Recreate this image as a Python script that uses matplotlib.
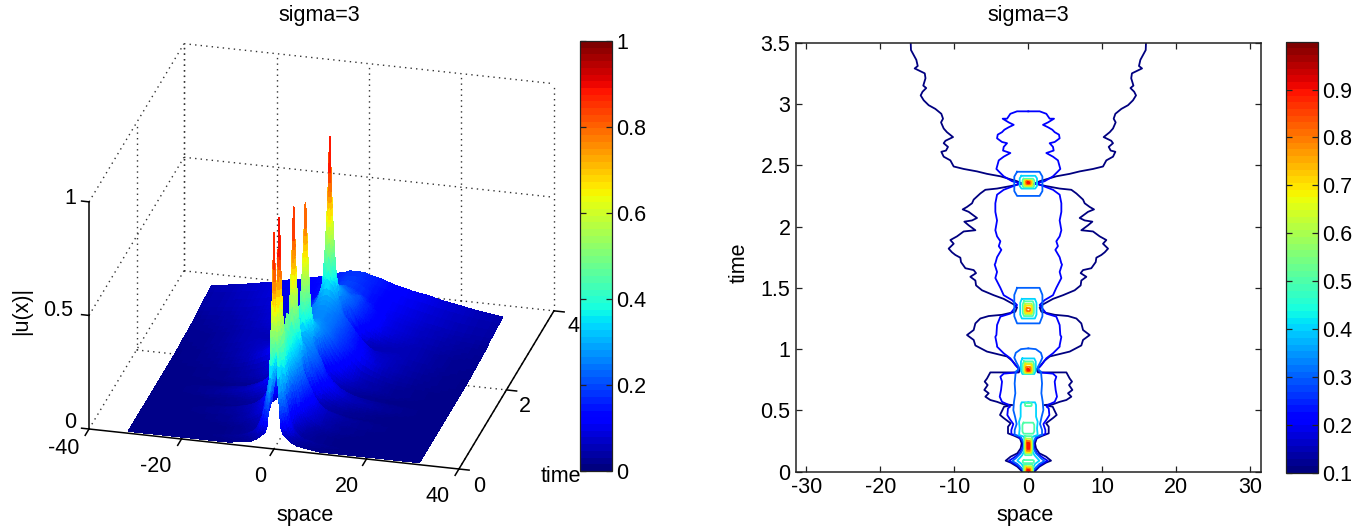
import numpy as np
import matplotlib
matplotlib.use('Agg')
import matplotlib.pyplot as plt
from matplotlib.cm import ScalarMappable
from matplotlib.colors import Normalize
from mpl_toolkits.mplot3d import proj3d

plt.rcParams['font.family'] = ['Liberation Sans', 'DejaVu Sans']
plt.rcParams['axes.unicode_minus'] = False

W, H = 1371, 531
FS = 15.5
INK = '#222222'

# |u(x)|, x >= 0 only (the solution is symmetric)
space_half = [0, 0.3, 0.6, 1, 1.5, 2, 3, 4, 5, 6.5, 8, 10, 12, 15, 18, 22, 26, 31.4]
time_rows = [0, 0.04, 0.09, 0.15, 0.22, 0.3, 0.38, 0.45, 0.55, 0.6, 0.72, 0.8, 0.83, 0.87, 0.92, 0.98,
             1.05, 1.2, 1.26, 1.3, 1.324, 1.35, 1.38, 1.45, 1.6, 1.8, 2.0, 2.2, 2.3, 2.33, 2.35, 2.37,
             2.4, 2.45, 2.55, 2.75, 3.0, 3.5]
u_rows = [
    [.95, .68, .5, .25, .1, .07, .05, .035, .025, .02, .015, .01, .01, .01, .01, .01, .01, .01],
    [.62, .54, .44, .28, .16, .1, .06, .04, .03, .02, .02, .015, .01, .01, .01, .01, .01, .01],
    [.42, .41, .38, .34, .28, .22, .12, .07, .05, .035, .025, .02, .015, .01, .01, .01, .01, .01],
    [.62, .54, .46, .34, .22, .14, .07, .045, .03, .025, .02, .015, .01, .01, .01, .01, .01, .01],
    [.98, .75, .6, .43, .28, .16, .07, .04, .03, .025, .02, .015, .01, .01, .01, .01, .01, .01],
    [.54, .5, .44, .36, .24, .16, .09, .06, .04, .03, .02, .015, .01, .01, .01, .01, .01, .01],
    [.48, .46, .42, .36, .28, .21, .12, .075, .05, .035, .025, .02, .015, .01, .01, .01, .01, .01],
    [.38, .38, .37, .35, .29, .24, .18, .11, .08, .06, .04, .03, .02, .015, .01, .01, .01, .01],
    [.5, .46, .42, .37, .31, .25, .17, .125, .09, .065, .045, .03, .02, .015, .01, .01, .01, .01],
    [.39, .39, .38, .36, .32, .28, .2, .15, .11, .07, .05, .035, .025, .02, .015, .01, .01, .01],
    [.37, .37, .36, .35, .31, .27, .205, .16, .115, .075, .055, .04, .03, .02, .015, .01, .01, .01],
    [.6, .54, .46, .38, .29, .2, .12, .09, .065, .05, .04, .03, .02, .015, .01, .01, .01, .01],
    [.92, .72, .58, .42, .3, .17, .09, .065, .05, .04, .03, .02, .015, .01, .01, .01, .01, .01],
    [.62, .56, .48, .39, .29, .17, .1, .07, .05, .04, .03, .025, .02, .015, .01, .01, .01, .01],
    [.42, .4, .38, .34, .28, .2, .12, .08, .06, .045, .035, .025, .02, .015, .01, .01, .01, .01],
    [.31, .31, .305, .3, .29, .26, .2, .145, .11, .08, .06, .045, .03, .02, .015, .01, .01, .01],
    [.27, .27, .265, .26, .25, .24, .22, .2, .16, .12, .09, .065, .05, .035, .025, .015, .01, .01],
    [.31, .31, .305, .3, .285, .265, .23, .19, .14, .1, .075, .055, .04, .03, .02, .015, .01, .01],
    [.46, .42, .38, .34, .31, .25, .19, .13, .1, .075, .055, .04, .03, .02, .015, .01, .01, .01],
    [.62, .54, .46, .39, .3, .19, .12, .09, .07, .05, .04, .03, .02, .015, .01, .01, .01, .01],
    [.855, .7, .56, .42, .31, .19, .11, .08, .06, .045, .035, .03, .02, .015, .01, .01, .01, .01],
    [.62, .54, .46, .39, .29, .2, .12, .09, .07, .05, .04, .03, .02, .015, .01, .01, .01, .01],
    [.46, .43, .4, .36, .3, .23, .15, .11, .085, .065, .05, .035, .025, .02, .015, .01, .01, .01],
    [.32, .32, .315, .31, .295, .27, .2, .165, .13, .1, .075, .055, .04, .03, .02, .015, .01, .01],
    [.28, .28, .28, .275, .265, .255, .24, .21, .18, .14, .1, .06, .045, .03, .02, .015, .01, .01],
    [.26, .26, .26, .255, .25, .245, .23, .205, .185, .16, .135, .105, .08, .05, .035, .02, .015, .01],
    [.26, .26, .26, .255, .25, .245, .23, .21, .185, .15, .12, .09, .07, .055, .04, .025, .015, .01],
    [.29, .29, .285, .28, .27, .26, .235, .205, .18, .14, .105, .07, .06, .055, .045, .03, .02, .012],
    [.4, .38, .36, .34, .31, .27, .21, .16, .125, .095, .07, .05, .05, .05, .045, .03, .02, .015],
    [.62, .56, .48, .39, .3, .18, .11, .08, .065, .055, .05, .05, .05, .05, .045, .03, .02, .015],
    [.965, .75, .6, .45, .32, .19, .095, .07, .06, .055, .05, .05, .05, .05, .045, .03, .02, .015],
    [.62, .56, .48, .4, .32, .2, .11, .08, .065, .055, .05, .05, .05, .05, .045, .03, .02, .015],
    [.42, .4, .38, .35, .3, .25, .2, .13, .1, .075, .06, .05, .05, .05, .045, .03, .02, .015],
    [.31, .31, .305, .3, .28, .26, .22, .2, .16, .12, .1, .07, .055, .05, .045, .03, .02, .015],
    [.28, .28, .275, .27, .26, .25, .23, .205, .17, .14, .12, .1, .08, .06, .05, .035, .025, .018],
    [.24, .24, .235, .23, .22, .21, .205, .205, .17, .145, .125, .1, .085, .07, .055, .04, .03, .02],
    [.195, .195, .19, .19, .185, .18, .17, .155, .14, .13, .12, .105, .095, .08, .065, .05, .04, .03],
    [.17, .17, .17, .17, .17, .165, .16, .155, .15, .14, .13, .12, .11, .1, .085, .07, .055, .04],
]

# contour lines of the right panel, left half traced from t high to t low, mirrored when drawn
level_01_x = [-15.9, -15.86, -15.5, -15.14, -14.95, -15.36, -14.68, -14.0, -13.9, -14.2, -13.8, -14.3, -14.55,
              -14.14, -13.47, -12.57, -11.76, -11.53, -11.8, -11.44, -11.0, -10.18, -11.2, -11.44, -10.86,
              -11.13, -11.76, -11.44, -10.54, -10.09, -8.74, -6.94, -5.59, -3.78, -2.66, -1.53, -0.63,
              -1.08, -2.43, -4.23, -5.81, -6.49, -7.39, -7.61, -8.29, -8.87, -8.06, -7.39, -6.94, -7.61,
              -8.65, -8.06, -7.16, -8.74, -9.64, -10.54, -10.09, -10.77, -10.32, -9.86, -9.19, -9.1, -8.51,
              -7.39, -7.07, -7.84, -7.16, -7.07, -6.26, -4.68, -3.33, -1.98, -1.53, -1.76, -3.56, -5.36,
              -6.49, -7.16, -7.39, -8.29, -7.39, -7.16, -6.85, -5.59, -4.23, -2.88, -2.2, -1.53, -1.08, -1.3,
              -2.88, -5.14, -5.59, -5.9, -5.5, -5.95, -5.36, -5.81, -5.14, -4.23, -3.33, -2.16, -3.29, -3.5,
              -3.83, -3.38, -2.39, -2.75, -2.75, -1.94, -1.13, -0.9, -1.04, -1.49, -2.39, -3.06, -2.39, -1.49,
              -0.81]
level_01_t = [3.5, 3.44, 3.40, 3.36, 3.31, 3.29, 3.27, 3.25, 3.21, 3.15, 3.13, 3.10, 3.07,
              3.03, 2.99, 2.96, 2.92, 2.88, 2.85, 2.80, 2.77, 2.73, 2.70, 2.68, 2.65,
              2.62, 2.61, 2.57, 2.54, 2.49, 2.47, 2.45, 2.43, 2.41, 2.39, 2.37, 2.345,
              2.347, 2.33, 2.31, 2.30, 2.27, 2.22, 2.19, 2.16, 2.14, 2.12, 2.09, 2.07, 2.05,
              2.04, 2.01, 1.97, 1.96, 1.92, 1.89, 1.86, 1.82, 1.79, 1.768, 1.746, 1.71, 1.66,
              1.645, 1.62, 1.59, 1.56, 1.52, 1.48, 1.44, 1.41, 1.365, 1.34, 1.305, 1.28, 1.27,
              1.25, 1.21, 1.156, 1.115, 1.075, 1.03, 1.02, 0.98, 0.96, 0.94, 0.906, 0.857, 0.835, 0.81,
              0.81, 0.81, 0.76, 0.735, 0.707, 0.667, 0.64, 0.612, 0.585, 0.57, 0.55, 0.544, 0.53, 0.503,
              0.463, 0.44, 0.395, 0.367, 0.313, 0.294, 0.272, 0.231, 0.19, 0.15, 0.123, 0.09, 0.074, 0.041,
              0]
level_02_x = [-0.0, -0.18, -1.53, -2.43, -2.88, -3.47, -2.66, -1.98, -2.66, -3.24, -3.56, -4.14, -4.23, -3.56,
              -2.88, -3.33, -3.42, -2.43, -3.33, -4.0, -4.32, -4.0, -3.33, -2.2, -0.86, -1.3, -3.33, -4.23,
              -4.46, -4.46, -4.23, -4.46, -4.23, -3.78, -4.0, -3.65, -4.23, -4.46, -4.55, -4.23, -4.46, -3.78,
              -3.33, -2.2, -1.53, -2.43, -3.78, -4.23, -4.32, -4.46, -4.23, -4.23, -3.33, -2.43, -1.76, -1.3,
              -1.53, -3.33, -3.78, -3.56, -3.69, -3.87, -3.56, -2.66, -2.48, -2.75, -2.84, -2.48, -2.03, -2.3,
              -2.3, -1.49, -0.9, -0.72, -0.81, -1.17, -1.94, -2.61, -1.94, -1.26, -0.59]
level_02_t = [2.94, 2.94, 2.94, 2.92, 2.88, 2.88, 2.85, 2.83, 2.81, 2.79, 2.77, 2.75, 2.72, 2.69,
              2.68, 2.65, 2.62, 2.60, 2.57, 2.54, 2.47, 2.45, 2.41, 2.37, 2.35, 2.347, 2.30, 2.26,
              2.19, 2.12, 2.05, 1.97, 1.92, 1.88, 1.84, 1.81, 1.75, 1.70, 1.69, 1.63, 1.58, 1.50,
              1.44, 1.40, 1.36, 1.29, 1.265, 1.197, 1.115, 1.10, 1.03, 1.02, 0.966, 0.925, 0.87, 0.84,
              0.81, 0.80, 0.775, 0.735, 0.667, 0.612, 0.57, 0.545, 0.53, 0.517, 0.462, 0.427, 0.389, 0.34,
              0.307, 0.294, 0.258, 0.231, 0.19, 0.15, 0.115, 0.09, 0.068, 0.041, 0]
level_03_x = [0, -1.0, -1.7, -1.9, -1.6, -1.25, -1.4, -1.71, -1.85, -1.76, -1.94, -2.03, -1.8, -1.58, -1.85, -1.85,
              -1.04, -0.59, -0.68, -1.04, -1.71, -2.16, -1.49, -1.04, -0.45]
level_03_t = [1.006, 1.0, 0.97, 0.93, 0.89, 0.85, 0.83, 0.816, 0.72, 0.64, 0.571, 0.503, 0.449, 0.389, 0.34, 0.3,
              0.286, 0.231, 0.19, 0.15, 0.109, 0.087, 0.063, 0.036, 0]
level_04_x = [0, -0.9, -1.04, -1.04, -1.26, -1.17, -1.26, -0.59, -0.36, -0.5, -0.81, -1.49, -0.9, -0.36]
level_04_t = [0.566, 0.566, 0.544, 0.449, 0.408, 0.354, 0.3, 0.286, 0.218, 0.177, 0.136, 0.09, 0.063, 0]

# small closed contours round the peaks: level, half width, t low, t high
loop_level = [.3, .4, .5, .6, .7, .8, .9,
              .3, .4, .5, .6, .7, .8,
              .4, .5, .6, .7, .8, .9,
              .5, .5, .5, .6, .7, .8, .9, .5,
              .5, .6, .7, .8, .9]
loop_width = [1.9, 1.17, .8, .6, .45, .3, .12,
              1.9, 1.1, .75, .55, .45, .25,
              1.0, .75, .55, .45, .3, .12,
              .45, .8, .55, .42, .35, .22, .12, .75,
              .65, .5, .38, .25, .12]
loop_t_low = [2.25, 2.31, 2.32, 2.33, 2.335, 2.345, 2.352,
              1.21, 1.25, 1.27, 1.285, 1.295, 1.31,
              .797, .80, .805, .81, .818, .824,
              .535, .31, .135, .15, .16, .17, .185, .07,
              -.02, -.02, -.02, -.02, -.02]
loop_t_high = [2.447, 2.414, 2.39, 2.38, 2.375, 2.37, 2.362,
               1.50, 1.41, 1.39, 1.37, 1.355, 1.335,
               .924, .90, .885, .875, .855, .838,
               .56, .40, .29, .27, .255, .25, .235, .095,
               .06, .045, .035, .025, .015]

colorbar_left_ticks = [0, .2, .4, .6, .8, 1]
colorbar_left_labels = ['0', '0.2', '0.4', '0.6', '0.8', '1']
colorbar_right_ticks = [.1, .2, .3, .4, .5, .6, .7, .8, .9]
colorbar_right_labels = ['0.1', '0.2', '0.3', '0.4', '0.5', '0.6', '0.7', '0.8', '0.9']
space_ticks = [-30, -20, -10, 0, 10, 20, 30]
space_labels = ['-30', '-20', '-10', '0', '10', '20', '30']
time_ticks = [0, .5, 1, 1.5, 2, 2.5, 3, 3.5]
time_labels = ['0', '0.5', '1', '1.5', '2', '2.5', '3', '3.5']


def box(left, top, right, bottom):
    return [left / W, 1 - bottom / H, (right - left) / W, (bottom - top) / H]


def put(x, y, s, **kw):
    fig.text(x / W, 1 - y / H, s, ha='center', va='center', fontsize=kw.pop('fontsize', FS), color='black', **kw)


def loop_outline(width, low, high):
    cut_x = 0.2 * width
    cut_t = 0.2 * (high - low)
    xs = [-width + cut_x, width - cut_x, width, width, width - cut_x, -width + cut_x, -width, -width, -width + cut_x]
    ts = [high, high, high - cut_t, low + cut_t, low, low, low + cut_t, high - cut_t, high]
    return xs, ts


def add_colorbar(rect, vmin, vmax, ticks, labels):
    cax = fig.add_axes(box(*rect))
    sm = ScalarMappable(norm=Normalize(vmin, vmax), cmap=plt.get_cmap('jet', 64))
    cb = fig.colorbar(sm, cax=cax, ticks=ticks)
    cb.ax.set_yticklabels(labels, fontsize=FS)
    cb.ax.tick_params(direction='in', length=4, width=0.9, left=True, right=True, pad=3, color=INK)
    cb.outline.set_linewidth(0.9)
    cb.outline.set_edgecolor(INK)
    return cb


def shade_steps(a, n):
    # split every cell into n facets so the colour runs up a facet, like shading interp
    a = np.asarray(a, dtype=float)
    where = np.arange((len(a) - 1) * n + 1) / n
    return np.interp(where, np.arange(len(a)), a)


fig = plt.figure(figsize=(W / 100, H / 100), dpi=100)

# left panel
ax3 = fig.add_axes([0.1, 0.1, 500 / W, 500 / H], projection='3d', computed_zorder=False)
ax3.set_xlim(-40, 40, view_margin=0)
ax3.set_ylim(0, 4, view_margin=0)
ax3.set_zlim(0, 1, view_margin=0)
ax3.set_box_aspect((382, 385, 251))
ax3.view_init(elev=25.1, azim=-75.7, roll=0)
ax3.set_proj_type('ortho')
ax3.set_axis_off()
ax3.patch.set_alpha(0)


# fit the 3D box to where the reference has its floor corners
def to_px(x, y, z):
    a, b, _ = proj3d.proj_transform(x, y, z, ax3.get_proj())
    return ax3.transData.transform((a, b))


size, cx, cy = 500.0, 300.0, 250.0
target0 = np.array([89.0, H - 429.0])
target1 = np.array([554.0, H - 311.0])
for _ in range(3):
    ax3.set_position([(cx - size / 2) / W, (cy - size / 2) / H, size / W, size / H])
    ax3.apply_aspect()
    p0, p1 = to_px(-40, 0, 0), to_px(40, 4, 0)
    k = np.linalg.norm(target1 - target0) / np.linalg.norm(p1 - p0)
    centre = np.array([cx, cy])
    centre = centre + (target0 - (centre + k * (p0 - centre)))
    cx, cy = centre
    size *= k
ax3.set_position([(cx - size / 2) / W, (cy - size / 2) / H, size / W, size / H])

dots = dict(color='#333333', lw=1.0, ls=(0, (1, 3)), zorder=1)
for x in [-40, -20, 0, 20, 40]:
    ax3.plot([x, x], [4, 4], [0, 1], **dots)
    ax3.plot([x, x], [0, 4], [0, 0], **dots)
for t in [2, 4]:
    ax3.plot([-40, -40], [t, t], [0, 1], **dots)
    ax3.plot([-40, 40], [t, t], [0, 0], **dots)
for z in [0.5, 1]:
    ax3.plot([-40, 40], [4, 4], [z, z], **dots)
    ax3.plot([-40, -40], [0, 4], [z, z], **dots)

space_full = np.concatenate([-np.array(space_half[:0:-1]), space_half])
u_half = np.array(u_rows)
u_full = np.hstack([u_half[:, :0:-1], u_half])

STEPS_X, STEPS_T = 4, 3
x_fine = shade_steps(space_full, STEPS_X)
t_fine = shade_steps(time_rows, STEPS_T)
u_fine = np.array([shade_steps(row, STEPS_X) for row in u_full])
u_fine = np.array([shade_steps(col, STEPS_T) for col in u_fine.T]).T
X3, T3 = np.meshgrid(x_fine, t_fine)

corners = np.stack([u_fine[:-1, :-1], u_fine[1:, :-1], u_fine[:-1, 1:], u_fine[1:, 1:]])
facet = np.pad(corners.mean(axis=0), ((0, 1), (0, 1)), mode='edge')
ax3.plot_surface(X3, T3, u_fine, rstride=1, cstride=1, facecolors=plt.get_cmap('jet')(facet),
                 shade=False, linewidth=0.5, antialiased=False, zorder=2)

solid = dict(color='black', lw=1.1, zorder=3)
ax3.plot([-40, 40], [0, 0], [0, 0], **solid)
ax3.plot([40, 40], [0, 4], [0, 0], **solid)
ax3.plot([-40, -40], [0, 0], [0, 1], **solid)
for x in [-40, -20, 0, 20, 40]:
    ax3.plot([x, x], [0, -0.16], [0, 0], **solid)
for t in [0, 2, 4]:
    ax3.plot([40, 42.2], [t, t], [0, 0], **solid)
for z in [0, 0.5, 1]:
    ax3.plot([-40, -41.6], [0, 0], [z, z], **solid)

for x, y, s in [(70, 199, '1'), (58, 310, '0.5'), (70, 422, '0'),
                (64, 449, '-40'), (156, 467, '-20'), (260, 476, '0'), (347, 486, '20'), (438, 496, '40'),
                (479, 486, '0'), (525, 407, '2'), (573, 327, '4'), (561, 476, 'time')]:
    put(x, y, s)
put(305, 515, 'space')
put(22, 311, '|u(x)|', rotation=90)
put(319, 15, 'sigma=3')

add_colorbar((580, 41, 612, 471), 0, 1, colorbar_left_ticks, colorbar_left_labels)

# right panel
ax = fig.add_axes(box(796, 42.7, 1260.7, 471.7))
level_color = plt.get_cmap('jet')
level_norm = Normalize(0.1, 1)
for level, xs, ts in [(.1, level_01_x, level_01_t), (.2, level_02_x, level_02_t),
                      (.3, level_03_x, level_03_t), (.4, level_04_x, level_04_t)]:
    ax.plot(xs, ts, color=level_color(level_norm(level)), lw=1.3)
    ax.plot(-np.array(xs), ts, color=level_color(level_norm(level)), lw=1.3)
for level, width, low, high in zip(loop_level, loop_width, loop_t_low, loop_t_high):
    xs, ts = loop_outline(width, low, high)
    ax.plot(xs, ts, color=level_color(level_norm(level)), lw=1.3)

ax.set_xlim(-31.4, 31.4)
ax.set_ylim(0, 3.5)
ax.set_xticks(space_ticks, space_labels, fontsize=FS)
ax.set_yticks(time_ticks, time_labels, fontsize=FS)
ax.tick_params(direction='in', length=4, width=0.9, top=True, right=True, color=INK, pad=4)
for spine in ax.spines.values():
    spine.set_linewidth(1.1)
    spine.set_edgecolor(INK)
put(1028, 15, 'sigma=3')
put(1025, 515, 'space')
put(739, 263, 'time', rotation=90)

add_colorbar((1286, 41.7, 1318, 472.6), 0.1, 1.0, colorbar_right_ticks, colorbar_right_labels)

fig.savefig('out.png', dpi=100)
